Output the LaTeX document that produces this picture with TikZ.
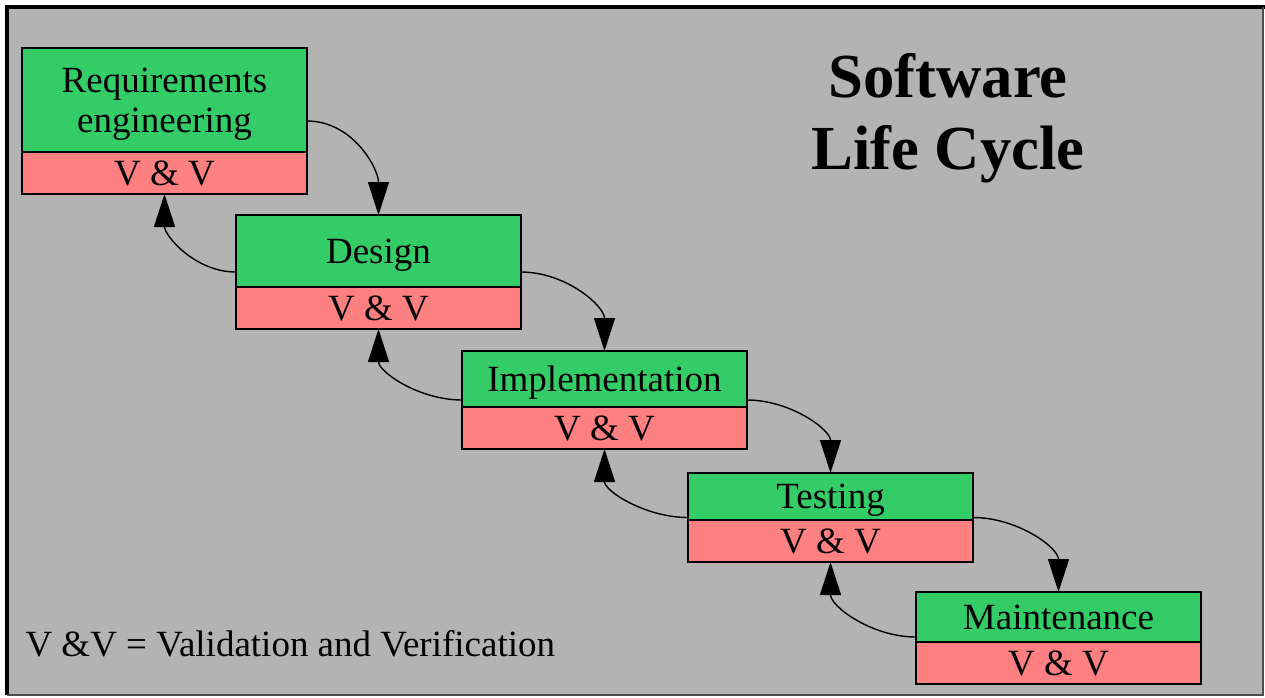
\documentclass[tikz,border=0pt]{standalone}
\usepackage{fontspec}
\setmainfont{Liberation Serif}
\usepackage{tikz}
\usetikzlibrary{arrows.meta,positioning}
\definecolor{stagegreen}{RGB}{51,204,102}
\definecolor{vvred}{RGB}{255,128,128}
\definecolor{panelgray}{RGB}{179,179,179}
\def\boxfont{\fontsize{37pt}{40pt}\selectfont}
\def\stagenode{\node[draw=black,line width=1.6pt,fill=stagegreen,minimum width=285pt,inner sep=0pt,outer sep=0pt,text depth=0pt,align=center,font=\boxfont]}
\def\vvnode{\node[draw=black,line width=1.6pt,fill=vvred,minimum width=285pt,minimum height=42pt,inner sep=0pt,outer sep=0pt,font=\boxfont]}

\begin{document}
\begin{tikzpicture}[x=1pt,y=-1pt,>={Triangle[width=21pt,length=33pt]}]
\fill[white] (0,0) rectangle (1265,697);
\useasboundingbox (0,0) rectangle (1265,697);
\fill[panelgray] (7,7) rectangle (1263,695);
\draw[line width=4pt] (7,695) -- (7,7) -- (1265,7);
\draw[gray!60!black,line width=2pt] (1263,7) -- (1263,695) -- (7,695);
\node[font=\bfseries\fontsize{62.7pt}{72pt}\selectfont,align=center] (title) at (948,118) {Software\\Life Cycle};
\stagenode[minimum height=104pt] (req) at (164.5,100) {Requirements\\engineering};
\vvnode[below=0pt of req] (reqvv) {V \& V};
\stagenode[minimum height=72pt] (design) at (378.5,251) {Design};
\vvnode[below=0pt of design] (designvv) {V \& V};
\stagenode[minimum height=56pt] (impl) at (604.5,379) {Implementation};
\vvnode[below=0pt of impl] (implvv) {V \& V};
\stagenode[minimum height=47pt] (test) at (830.5,496.5) {Testing};
\vvnode[below=0pt of test] (testvv) {V \& V};
\stagenode[minimum height=50pt] (maint) at (1058.5,617) {Maintenance};
\vvnode[below=0pt of maint] (maintvv) {V \& V};
\node[font=\boxfont,anchor=base west] (legend) at (22,656) {V \&V = Validation and Verification};
\draw[line width=1.4pt,->] ([yshift=-21pt]req.east) to[out=0,in=90] (design.north);
\draw[line width=1.4pt,->] ([yshift=-21pt]design.west) to[out=180,in=-90] (reqvv.south);
\draw[line width=1.4pt,->] ([yshift=-21pt]design.east) to[out=0,in=90] (impl.north);
\draw[line width=1.4pt,->] ([yshift=-21pt]impl.west) to[out=180,in=-90] (designvv.south);
\draw[line width=1.4pt,->] ([yshift=-21pt]impl.east) to[out=0,in=90] (test.north);
\draw[line width=1.4pt,->] ([yshift=-21pt]test.west) to[out=180,in=-90] (implvv.south);
\draw[line width=1.4pt,->] ([yshift=-21pt]test.east) to[out=0,in=90] (maint.north);
\draw[line width=1.4pt,->] ([yshift=-20pt]maint.west) to[out=180,in=-90] (testvv.south);
\end{tikzpicture}
\end{document}
